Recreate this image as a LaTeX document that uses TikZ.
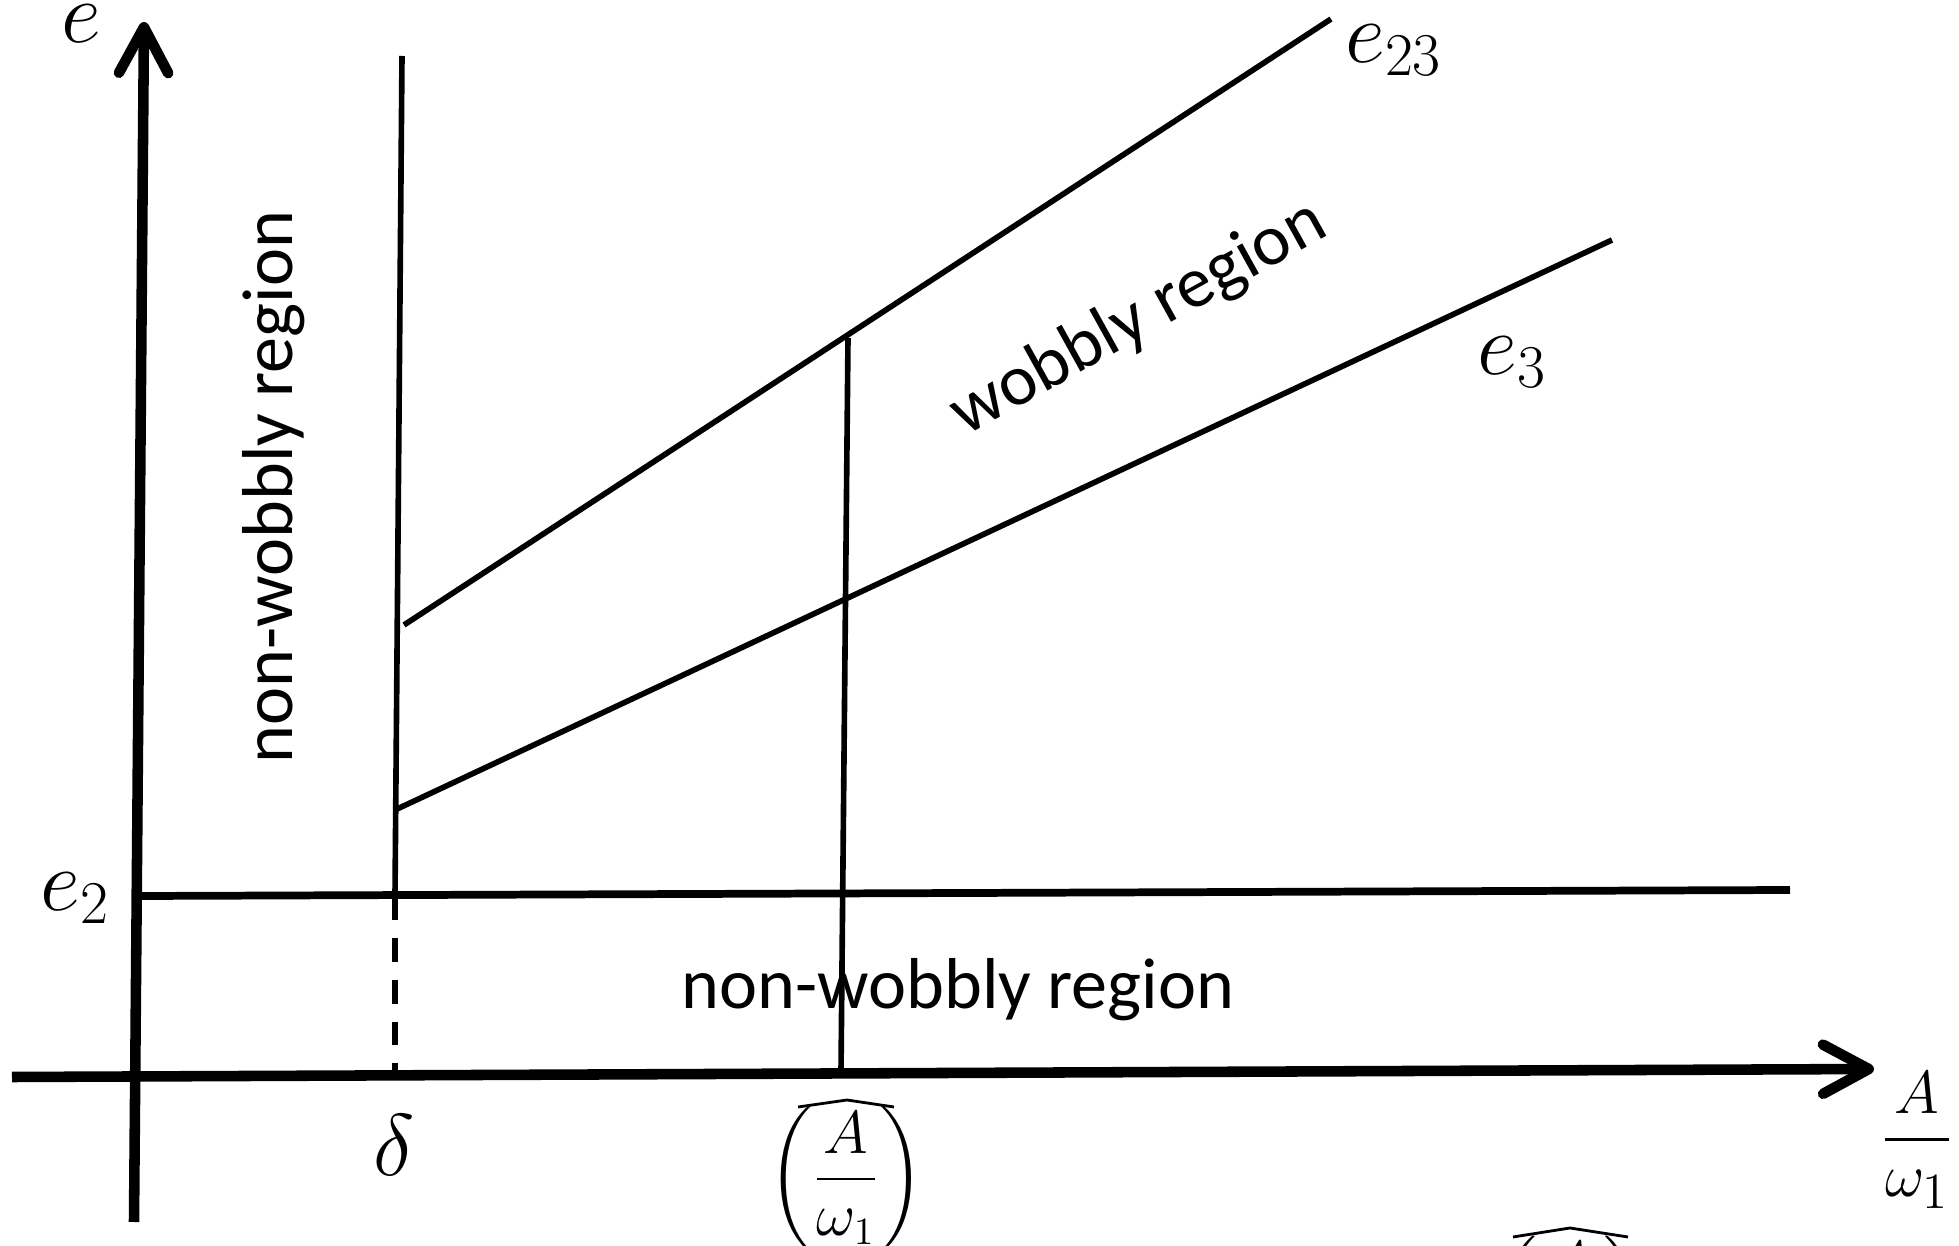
\documentclass[tikz,border=0pt]{standalone}
\usepackage{amsmath}
\usepackage{fontspec}
\newfontfamily\carlito{Carlito}
\usetikzlibrary{arrows.meta}
\begin{document}
\begin{tikzpicture}[x=0.01cm,y=-0.01cm,
  axis/.style={line width=3pt, -{Straight Barb[length=13pt,width=14pt,line cap=round,line join=round]}},
  thinline/.style={line width=1.6pt},
  levelline/.style={line width=2.2pt},
  dashline/.style={line width=1.6pt, dash pattern=on 6.8pt off 5.1pt},
  hatline/.style={line width=0.8pt, line join=miter},
  mlabel/.style={font=\fontsize{23}{27}\selectfont, inner sep=0pt},
  flabel/.style={font=\fontsize{19}{23}\selectfont, inner sep=0pt},
  plabel/.style={font=\fontsize{16}{20}\selectfont, inner sep=0pt},
  slabel/.style={font=\carlito\fontsize{20.5}{24}\selectfont, inner sep=0pt}]
\useasboundingbox (0,0) rectangle (1959,1246);
\clip (0,0) rectangle (1959,1246);
% coordinates
\coordinate (yb) at (134,1222);
\coordinate (yt) at (144,22);
\coordinate (xl) at (12,1077);
\coordinate (xr) at (1874,1069);
\coordinate (e2l) at (141,896);
\coordinate (e2r) at (1790,890);
\coordinate (dt) at (402,56);
\coordinate (dm) at (395,896);
\coordinate (db) at (395,1077);
\coordinate (e23a) at (404,625);
\coordinate (e23b) at (1331,19);
\coordinate (e3a) at (395,810);
\coordinate (e3b) at (1612,240);
\coordinate (vt) at (848,338);
\coordinate (vb) at (841,1072);
% hat coordinates
\coordinate (h1a) at (798,1107);
\coordinate (h1b) at (847,1100);
\coordinate (h1c) at (894,1107);
\coordinate (h2a) at (1513,1237);
\coordinate (h2b) at (1570,1228);
\coordinate (h2c) at (1628,1237);
% axes
\draw[axis] (yb) -- (yt);
\draw[axis] (xl) -- (xr);
% lines
\draw[levelline] (e2l) -- (e2r);
\draw[thinline] (dt) -- (dm);
\draw[dashline] (dm) -- (db);
\draw[thinline] (e23a) -- (e23b);
\draw[thinline] (e3a) -- (e3b);
\draw[thinline] (vt) -- (vb);
% labels
\node[mlabel] (elab) at (81,24) {$e$};
\node[mlabel] (e2lab) at (75,898) {$e_2$};
\node[mlabel] (e23lab) at (1394,50) {$e_{23}$};
\node[mlabel] (e3lab) at (1512,362) {$e_3$};
\node[mlabel] (dlab) at (394,1145) {$\delta$};
\node[plabel] (hatlab) at (846,1179) {$\left(\dfrac{A}{\omega_1}\right)$};
\draw[hatline] (h1a) -- (h1b) -- (h1c);
\node[flabel] (xlab) at (1917,1140) {$\dfrac{A}{\omega_1}$};
\node[plabel] (hatlab2) at (1570,1309) {$\left(\dfrac{A}{\omega_1}\right)$};
\draw[hatline] (h2a) -- (h2b) -- (h2c);
\node[slabel, rotate=90] (nw1) at (274,487) {non-wobbly region};
\node[slabel] (nw2) at (958,990) {non-wobbly region};
\node[slabel, rotate=29] (wob) at (1139,319) {wobbly region};
\end{tikzpicture}
\end{document}
